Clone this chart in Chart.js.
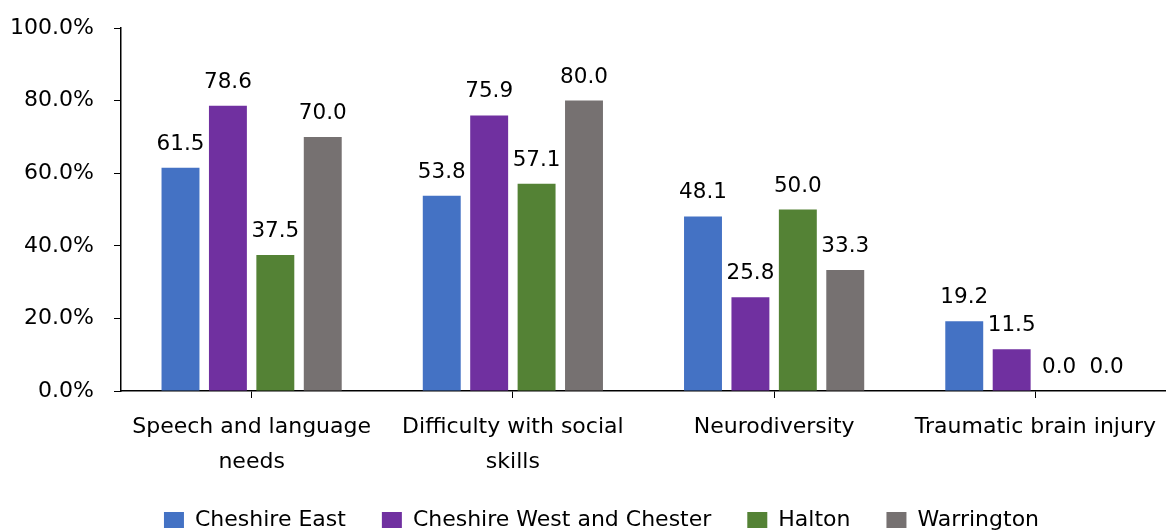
<!DOCTYPE html>
<html>
<head>
<meta charset="utf-8">
<script src="https://cdn.jsdelivr.net/npm/chart.js@4"></script>
<style>
  html, body { margin: 0; padding: 0; background: #fff; }
  #wrap { width: 1166px; height: 532px; }
</style>
</head>
<body>
<div id="wrap"><canvas id="c" width="1166" height="532"></canvas></div>
<script>
const categories = [
  ['Speech and language', 'needs'],
  ['Difficulty with social', 'skills'],
  'Neurodiversity',
  'Traumatic brain injury'
];
const seriesNames = ['Cheshire East', 'Cheshire West and Chester', 'Halton', 'Warrington'];
const cheshireEast = [61.5, 53.8, 48.1, 19.2];
const cheshireWest = [78.6, 75.9, 25.8, 11.5];
const halton = [37.5, 57.1, 50.0, 0.0];
const warrington = [70.0, 80.0, 33.3, 0.0];
const seriesColors = ['#4472C4', '#7030A0', '#548235', '#767171'];
const yTicks = [0, 20, 40, 60, 80, 100];

const FONT = "'DejaVu Sans', sans-serif";

// Writes each bar's value above it with one decimal place
const valueLabels = {
  id: 'valueLabels',
  afterLayout(chart) {
    // nudge the legend row a little to the right of centre
    if (chart.legend) {
      chart.legend.left += 18.5;
      chart.legend.right += 18.5;
    }
  },
  afterDatasetsDraw(chart) {
    const ctx = chart.ctx;
    ctx.save();
    ctx.font = "21.5px " + FONT;
    ctx.fillStyle = '#000';
    ctx.textAlign = 'center';
    ctx.textBaseline = 'alphabetic';
    chart.data.datasets.forEach((ds, i) => {
      chart.getDatasetMeta(i).data.forEach((bar, j) => {
        ctx.fillText(ds.data[j].toFixed(1), bar.x, bar.y - 18);
      });
    });
    ctx.restore();
  }
};

const allSeries = [cheshireEast, cheshireWest, halton, warrington];

new Chart(document.getElementById('c'), {
  type: 'bar',
  data: {
    labels: categories,
    datasets: allSeries.map((vals, i) => ({
      label: seriesNames[i],
      data: vals,
      backgroundColor: seriesColors[i],
      categoryPercentage: 0.726,
      barPercentage: 0.8
    }))
  },
  options: {
    responsive: false,
    animation: false,
    layout: { padding: { top: 28, right: 0, left: 0, bottom: -9 } },
    plugins: {
      legend: {
        position: 'bottom',
        labels: {
          boxWidth: 20,
          boxHeight: 16,
          padding: 36,
          color: '#000',
          font: { family: FONT, size: 22 }
        }
      },
      tooltip: { enabled: false }
    },
    scales: {
      x: {
        grid: {
          offset: false,
          drawOnChartArea: false,
          drawTicks: true,
          tickLength: 7,
          color: '#000'
        },
        border: { color: '#000', width: 1.5 },
        ticks: {
          color: '#000',
          maxRotation: 0,
          autoSkip: false,
          padding: 12,
          font: { family: FONT, size: 22, lineHeight: 1.59 }
        },
        afterFit(scale) {
          scale.height = 82;
          scale.paddingLeft = 0;
          scale.paddingRight = 0;
          // let the two-line category names run past the axis box
          scale._computeLabelArea = () => undefined;
        }
      },
      y: {
        min: 0,
        max: 100,
        afterBuildTicks(scale) { scale.ticks = yTicks.map(v => ({ value: v })); },
        grid: {
          drawOnChartArea: false,
          drawTicks: true,
          tickLength: 7,
          color: '#000'
        },
        border: { color: '#000', width: 1.5 },
        ticks: {
          color: '#000',
          padding: 20,
          callback: v => v.toFixed(1) + '%',
          font: { family: FONT, size: 22 }
        },
        afterFit(scale) {
          scale.width = 121;
          scale.paddingTop = 0;
          scale.paddingBottom = 0;
        }
      }
    }
  },
  plugins: [valueLabels]
});
</script>
</body>
</html>
